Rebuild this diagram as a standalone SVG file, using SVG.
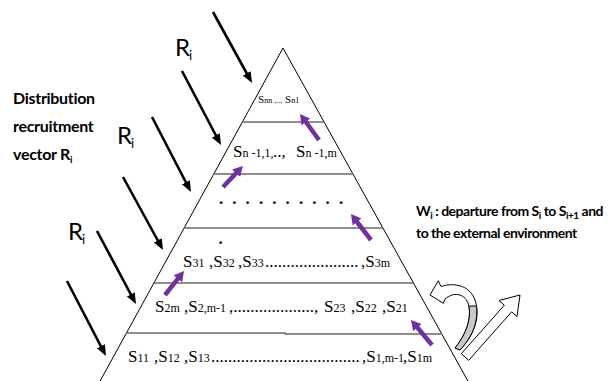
<svg xmlns="http://www.w3.org/2000/svg" width="614" height="381" viewBox="0 0 614 381">
<style>
.tri{fill:none;stroke:#000;stroke-width:1}
.lvl{stroke:#6a6a6a;stroke-width:1.5;fill:none}
.blk{stroke:#000;stroke-width:2.6;fill:none;marker-end:url(#ah)}
.pur{stroke:#7030A0;stroke-width:4.5;fill:none;marker-end:url(#ph)}
.serif{font-family:"Liberation Serif","Times New Roman",serif;font-size:17px;fill:#000}
.sub{font-size:12px}
.sans{font-family:Lato,"Liberation Sans",Arial,sans-serif;fill:#000}
.rl{font-size:24px}
.rs{font-size:13px}
.bold{font-weight:bold;font-size:16px;letter-spacing:-0.3px}
.wt{font-weight:bold;font-size:14px;letter-spacing:-0.5px}
</style>
<defs>
<marker id="ah" markerUnits="userSpaceOnUse" markerWidth="12" markerHeight="10" refX="7" refY="4.5" orient="auto"><path d="M0,0 L11,4.5 L0,9 Z" fill="#000"/></marker>
<marker id="ph" markerUnits="userSpaceOnUse" markerWidth="12" markerHeight="12" refX="5" refY="5.5" orient="auto"><path d="M0,0 L10,5.5 L0,11 Z" fill="#7030A0"/></marker>
</defs>

<g id="pyramid">
<polyline class="tri" points="99,383 283,48 469,383"/>
<line class="lvl" x1="242" y1="122" x2="324" y2="122"/>
<line class="lvl" x1="213" y1="174" x2="353" y2="174"/>
<line class="lvl" x1="184" y1="228" x2="383" y2="228"/>
<line class="lvl" x1="154" y1="283" x2="413" y2="283"/>
<polyline class="lvl" points="126,333 285,333 285,334 442,334"/>
</g>

<g id="level-n">
<text class="serif" y="103"><tspan x="258" font-size="11">S</tspan><tspan font-size="8">nn ,..,</tspan><tspan x="285" font-size="11">S</tspan><tspan font-size="8">n1</tspan></text>
</g>

<g id="level-n-1">
<text class="serif" y="157"><tspan x="233">S</tspan><tspan class="sub">n -1,1,</tspan><tspan x="273">..,</tspan><tspan x="296">S</tspan><tspan class="sub">n -1,m</tspan></text>
</g>

<g id="level-dots">
<text class="serif" font-weight="bold" font-size="18" y="204" x="219 232.3 245.6 259 272.3 285.6 299 312.3 325.6 339">..........</text>
<text class="serif" font-weight="bold" font-size="18" x="218.5" y="244">.</text>
</g>

<g id="level-3">
<text class="serif" y="267"><tspan x="183">S</tspan><tspan class="sub">31</tspan><tspan x="209">,S</tspan><tspan class="sub">32</tspan><tspan x="238">,S</tspan><tspan class="sub">33</tspan><tspan x="265">......................</tspan><tspan x="361">,S</tspan><tspan class="sub">3m</tspan></text>
</g>

<g id="level-2">
<text class="serif" y="312"><tspan x="155">S</tspan><tspan class="sub">2m</tspan><tspan x="184">,S</tspan><tspan class="sub">2,m-1</tspan><tspan x="229">,...................,</tspan><tspan x="324">S</tspan><tspan class="sub">23</tspan><tspan x="351">,S</tspan><tspan class="sub">22</tspan><tspan x="382">,S</tspan><tspan class="sub">21</tspan></text>
</g>

<g id="level-1">
<text class="serif" y="362"><tspan x="128">S</tspan><tspan class="sub">11</tspan><tspan x="154">,S</tspan><tspan class="sub">12</tspan><tspan x="184">,S</tspan><tspan class="sub">13</tspan><tspan x="211">...................................</tspan><tspan x="362">,S</tspan><tspan class="sub">1,m-1</tspan><tspan x="403">,S</tspan><tspan class="sub">1m</tspan></text>
</g>

<g id="label-distribution">
<text class="sans bold" x="13" y="104">Distribution</text>
<text class="sans bold" x="13" y="132">recruitment</text>
<text class="sans bold" y="160"><tspan x="13">vector R</tspan><tspan font-size="10" dy="3">i</tspan></text>
</g>

<g id="label-R1"><text class="sans" y="56"><tspan x="175" class="rl">R</tspan><tspan x="189" y="60" class="rs">i</tspan></text></g>
<g id="label-R2"><text class="sans" y="144"><tspan x="117" class="rl">R</tspan><tspan x="131" y="148" class="rs">i</tspan></text></g>
<g id="label-R3"><text class="sans" y="240"><tspan x="68" class="rl">R</tspan><tspan x="82" y="244" class="rs">i</tspan></text></g>

<g id="label-W">
<text class="sans wt" y="216"><tspan x="416">W</tspan><tspan font-size="10" dy="3">i</tspan><tspan dy="-3"> : departure from S</tspan><tspan font-size="10" dy="3">i</tspan><tspan dy="-3">  to S</tspan><tspan font-size="10" dy="3">i+1</tspan><tspan dy="-3"> and</tspan></text>
<text class="sans wt" x="416" y="238">to the external environment</text>
</g>

<g id="connectors">
<line class="blk" x1="213" y1="12" x2="250.1" y2="79.5"/>
<line class="blk" x1="182" y1="71" x2="219.1" y2="141.5"/>
<line class="blk" x1="152" y1="117" x2="189.1" y2="188.5"/>
<line class="blk" x1="123" y1="177" x2="161.1" y2="246.5"/>
<line class="blk" x1="97" y1="231" x2="134.1" y2="300.5"/>
<line class="blk" x1="67" y1="281" x2="104.1" y2="352.5"/>
<line class="pur" x1="319" y1="140" x2="303" y2="118"/>
<line class="pur" x1="223" y1="187" x2="239.5" y2="169.6"/>
<line class="pur" x1="371" y1="240" x2="354" y2="218"/>
<line class="pur" x1="165" y1="295" x2="180.9" y2="274.9"/>
<line class="pur" x1="432" y1="345" x2="414.2" y2="323.8"/>
</g>

<g id="curved-arrow">
<path d="M430,295 L438.3,280.7 L441,286.5 C455,282 470,286 475,300 C480,315 476,333 460,350 L455,348 C468,332 472,315 468,303 C464,293 453,292 445,299 L443.3,303.3 Z" fill="#fff" stroke="#000" stroke-width="1"/>
<path d="M476.5,306 C478,320 474,335 460,350 L455,348 C467,333 471,319 469,306 Z" fill="#c8c8c8" stroke="#000" stroke-width="1"/>
</g>

<g id="out-arrow">
<polygon points="461.3,353.7 504.3,305.2 499,300.5 520,295 517,316.5 511.7,311.8 468.7,360.3" fill="#fff" stroke="#000" stroke-width="1"/>
</g>
</svg>
